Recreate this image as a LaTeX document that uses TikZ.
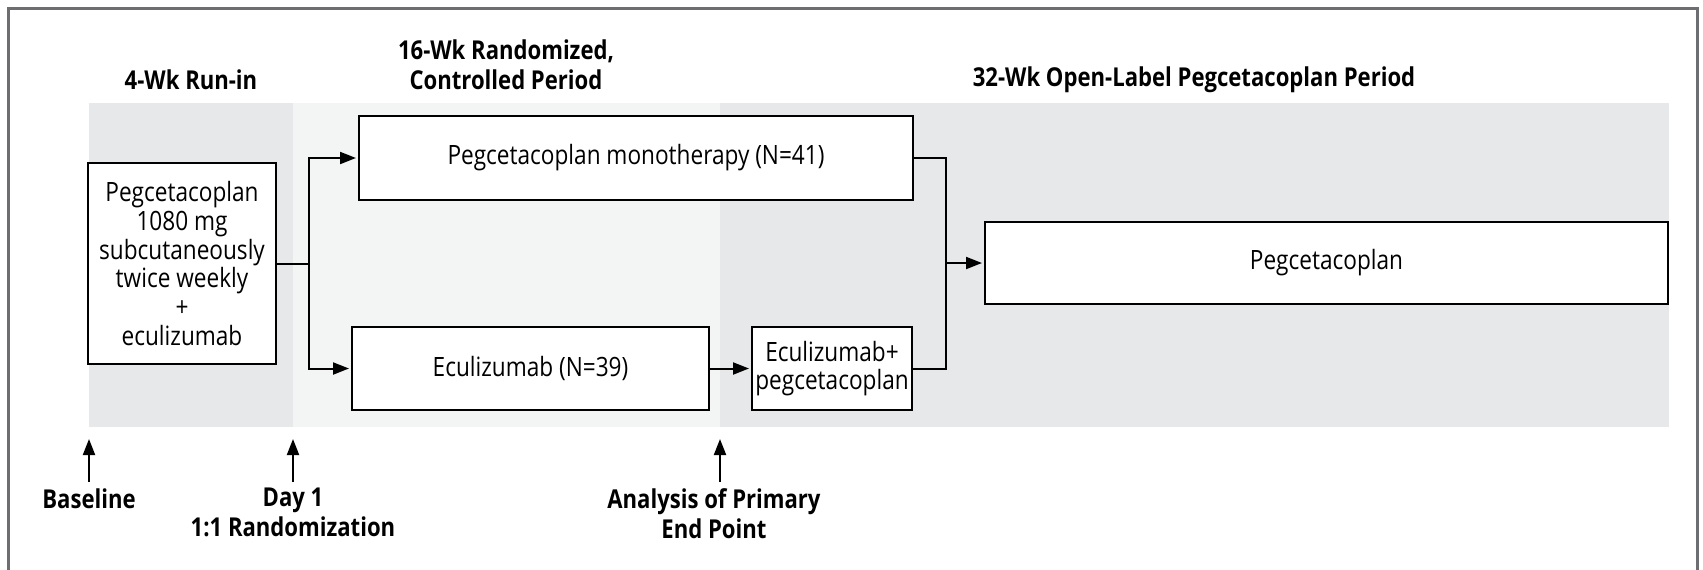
\documentclass[tikz,border=0pt]{standalone}
\usepackage{fontspec}
\setmainfont{Open Sans}[FakeStretch=0.85]
\usetikzlibrary{arrows.meta}
\definecolor{runin}{HTML}{E7E8E9}
\definecolor{controle}{HTML}{F3F4F4}
\definecolor{ouvert}{HTML}{E7E8E9}
\definecolor{cadre}{HTML}{6D6E71}

\begin{document}
\begin{tikzpicture}[x=0.5pt,y=-0.5pt]
\tikzset{bras/.style={draw,line width=1pt,fill=white,inner sep=0pt,align=center,
  font=\fontsize{13.3}{14.4}\selectfont},
titre/.style={font=\fontsize{13}{15}\selectfont\bfseries,align=center,inner sep=0pt},
repere/.style={titre,anchor=north,inner sep=3pt},
lien/.style={-{Triangle[length=8pt,width=6pt]},line width=1pt,shorten >=1pt}}
\useasboundingbox (0,0) rectangle (1703,569);
\draw[cadre,line width=1.5pt] (8,590) -- (8,8) -- (1697,8) -- (1697,590);

\fill[runin] (89,103) rectangle (293,427);
\fill[controle] (293,103) rectangle (720,427);
\fill[ouvert] (720,103) rectangle (1669,427);

\node[titre] (T1) at (191,80) {4-Wk Run-in};
\node[titre] (T2) at (506,65) {16-Wk Randomized,\\Controlled Period};
\node[titre] (T3) at (1194,80) {32-Wk Open-Label Pegcetacoplan Period};

\node[bras,minimum width=94pt,minimum height=100.5pt] (R) at (182,263.5)
  {Pegcetacoplan\\1080 mg\\subcutaneously\\twice weekly\\+\\eculizumab};
\node[bras,minimum width=277pt,minimum height=42pt] (M) at (636,158)
  {Pegcetacoplan monotherapy (N=41)};
\node[bras,minimum width=178.5pt,minimum height=41.5pt] (E) at (530.5,368.5)
  {Eculizumab (N=39)};
\node[bras,minimum width=80pt,minimum height=41.5pt] (EP) at (832,368.5)
  {Eculizumab+\\pegcetacoplan};
\node[bras,minimum width=341.5pt,minimum height=41pt] (P) at (1326.5,263)
  {Pegcetacoplan};

\coordinate (S) at (309,263.5);
\coordinate (J) at (946,263);
\draw[lien] (R.east) -- (S) |- (M.west);
\draw[lien] (S) |- (E.west);
\draw[lien] (E) -- (EP);
\draw[line width=1pt] (M.east) -| (J);
\draw[line width=1pt] (EP.east) -| (J);
\draw[lien] (J) -- (P);

\coordinate (A1) at (89,437);
\coordinate (A2) at (293,437);
\coordinate (A3) at (720,437);
\node[repere] (B1) at (89,482) {Baseline};
\node[repere] (B2) at (293,482) {Day 1\\1:1 Randomization};
\node[repere] (B3) at (714,482) {Analysis of Primary\\End Point};
\draw[lien] (B1.north) -- (A1);
\draw[lien] (B2.north) -- (A2);
\draw[lien] (A3 |- B3.north) -- (A3);
\end{tikzpicture}
\end{document}
